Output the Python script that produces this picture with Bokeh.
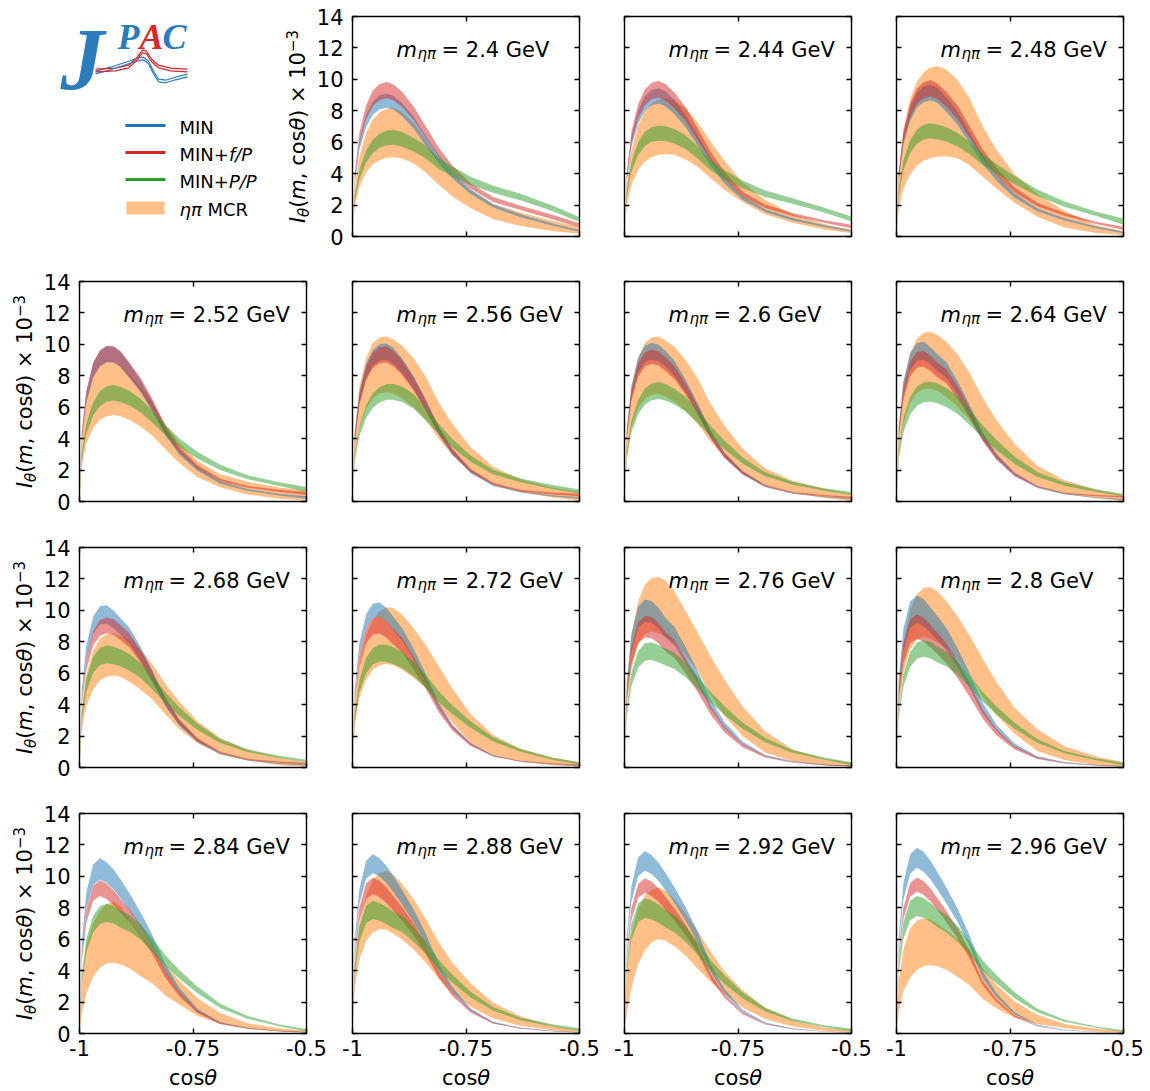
import math
from bokeh.plotting import figure
from bokeh.layouts import column, row
from bokeh.models import Range1d, LinearAxis, FixedTicker, Label
from bokeh.embed import file_html
from bokeh.resources import INLINE
from bokeh.core.properties import value

# ---------------- data ----------------
cos_theta = [-1.0, -0.995, -0.985, -0.97, -0.955, -0.94, -0.925, -0.91, -0.89,
             -0.865, -0.84, -0.81, -0.78, -0.74, -0.69, -0.63, -0.56, -0.5]

mass_labels = ["2.4", "2.44", "2.48", "2.52", "2.56", "2.6", "2.64", "2.68",
               "2.72", "2.76", "2.8", "2.84", "2.88", "2.92", "2.96"]

# MIN (blue) band
min_hi = [
    [0, 3.73, 6.1, 7.74, 8.61, 8.99, 9.1, 8.96, 8.46, 7.6, 6.46, 5.19, 4.1, 3.0, 2.05, 1.41, 0.82, 0.42],
    [0, 3.87, 6.32, 8.02, 8.92, 9.32, 9.43, 9.24, 8.68, 7.73, 6.51, 5.0, 3.77, 2.59, 1.74, 1.18, 0.71, 0.42],
    [0, 3.96, 6.47, 8.21, 9.14, 9.54, 9.66, 9.47, 8.84, 7.92, 6.67, 5.15, 3.96, 2.75, 1.79, 1.16, 0.63, 0.32],
    [0, 4.36, 6.99, 8.8, 9.6, 9.88, 9.85, 9.55, 8.76, 7.72, 6.39, 4.65, 3.32, 2.18, 1.29, 0.79, 0.5, 0.34],
    [0, 4.28, 6.96, 8.77, 9.66, 10.01, 10.06, 9.78, 9.07, 7.96, 6.55, 4.75, 3.33, 2.02, 1.11, 0.66, 0.4, 0.28],
    [0, 4.62, 7.34, 9.17, 9.91, 10.1, 9.97, 9.6, 8.94, 7.73, 6.31, 4.5, 3.13, 1.92, 1.01, 0.56, 0.32, 0.22],
    [0, 4.84, 7.64, 9.44, 10.09, 10.16, 9.82, 9.37, 8.86, 7.64, 6.21, 4.4, 3.05, 1.83, 0.97, 0.51, 0.27, 0.18],
    [0, 4.92, 7.76, 9.59, 10.26, 10.33, 9.99, 9.52, 8.9, 7.66, 6.21, 4.35, 3.0, 1.81, 0.93, 0.5, 0.28, 0.2],
    [0, 5.0, 7.89, 9.75, 10.43, 10.5, 10.15, 9.57, 8.84, 7.52, 6.05, 4.1, 2.74, 1.58, 0.79, 0.39, 0.21, 0.15],
    [0, 5.36, 8.46, 10.23, 10.69, 10.6, 10.17, 9.53, 8.94, 7.66, 6.21, 4.29, 2.89, 1.66, 0.8, 0.41, 0.2, 0.12],
    [0, 5.69, 8.81, 10.56, 10.95, 10.7, 10.18, 9.64, 8.87, 7.56, 6.08, 4.1, 2.74, 1.53, 0.72, 0.35, 0.18, 0.1],
    [0, 5.8, 8.98, 10.75, 11.15, 10.89, 10.43, 9.81, 8.92, 7.69, 6.3, 4.35, 2.9, 1.56, 0.72, 0.37, 0.18, 0.1],
    [0, 5.93, 9.18, 10.99, 11.4, 11.14, 10.66, 10.03, 9.12, 7.87, 6.44, 4.45, 2.96, 1.6, 0.74, 0.38, 0.18, 0.08],
    [0, 6.04, 9.35, 11.2, 11.62, 11.35, 10.86, 10.23, 9.3, 8.02, 6.57, 4.36, 2.85, 1.51, 0.7, 0.33, 0.15, 0.06],
    [0, 6.15, 9.52, 11.39, 11.82, 11.55, 10.99, 10.28, 9.28, 7.92, 6.32, 3.95, 2.6, 1.36, 0.57, 0.24, 0.11, 0.05],
]
min_lo = [
    [0, 3.36, 5.49, 6.97, 7.76, 8.1, 8.2, 8.08, 7.63, 6.85, 5.82, 4.67, 3.69, 2.7, 1.85, 1.22, 0.7, 0.3],
    [0, 3.47, 5.67, 7.19, 8.0, 8.36, 8.46, 8.29, 7.78, 6.94, 5.84, 4.48, 3.38, 2.33, 1.56, 1.02, 0.6, 0.3],
    [0, 3.55, 5.8, 7.36, 8.19, 8.56, 8.66, 8.49, 7.92, 7.1, 5.98, 4.62, 3.55, 2.47, 1.6, 1.02, 0.53, 0.2],
    [0, 3.91, 6.27, 7.89, 8.61, 8.86, 8.84, 8.57, 7.86, 6.93, 5.73, 4.17, 2.97, 1.95, 1.13, 0.68, 0.38, 0.18],
    [0, 3.84, 6.24, 7.86, 8.66, 8.98, 9.02, 8.77, 8.14, 7.14, 5.88, 4.26, 2.98, 1.8, 0.98, 0.57, 0.32, 0.17],
    [0, 4.13, 6.57, 8.21, 8.87, 9.04, 8.92, 8.59, 8.0, 6.92, 5.65, 4.03, 2.8, 1.72, 0.9, 0.49, 0.27, 0.14],
    [0, 4.29, 6.78, 8.38, 8.96, 9.02, 8.72, 8.32, 7.86, 6.78, 5.51, 3.9, 2.71, 1.63, 0.86, 0.45, 0.22, 0.1],
    [0, 4.36, 6.89, 8.51, 9.1, 9.16, 8.86, 8.45, 7.89, 6.79, 5.51, 3.86, 2.66, 1.61, 0.83, 0.44, 0.22, 0.12],
    [0, 4.56, 7.2, 8.9, 9.51, 9.58, 9.26, 8.74, 8.06, 6.86, 5.52, 3.74, 2.5, 1.44, 0.72, 0.35, 0.17, 0.08],
    [0, 4.65, 7.35, 8.88, 9.28, 9.21, 8.84, 8.28, 7.77, 6.65, 5.39, 3.73, 2.51, 1.44, 0.7, 0.35, 0.15, 0.06],
    [0, 4.78, 7.41, 8.87, 9.2, 8.99, 8.56, 8.1, 7.45, 6.35, 5.11, 3.44, 2.3, 1.29, 0.61, 0.29, 0.13, 0.05],
    [0, 5.1, 7.89, 9.45, 9.8, 9.57, 9.16, 8.62, 7.84, 6.76, 5.54, 3.82, 2.55, 1.37, 0.64, 0.32, 0.15, 0.05],
    [0, 5.31, 8.23, 9.85, 10.22, 9.98, 9.56, 8.99, 8.18, 7.05, 5.77, 3.99, 2.66, 1.43, 0.66, 0.34, 0.15, 0.04],
    [0, 5.39, 8.35, 10.0, 10.37, 10.13, 9.7, 9.13, 8.3, 7.16, 5.86, 3.89, 2.54, 1.35, 0.62, 0.29, 0.12, 0.03],
    [0, 5.48, 8.48, 10.16, 10.54, 10.3, 9.8, 9.17, 8.27, 7.06, 5.64, 3.52, 2.32, 1.21, 0.51, 0.21, 0.09, 0.03],
]

# MIN+f/P (red) band
fp_hi = [
    [0, 4.03, 6.59, 8.36, 9.3, 9.71, 9.83, 9.68, 9.19, 8.26, 7.08, 5.65, 4.52, 3.39, 2.51, 1.95, 1.38, 0.84],
    [0, 4.06, 6.63, 8.42, 9.37, 9.78, 9.9, 9.7, 9.16, 8.22, 6.93, 5.4, 4.11, 2.87, 2.03, 1.49, 1.04, 0.74],
    [0, 4.08, 6.66, 8.45, 9.4, 9.82, 9.94, 9.74, 9.19, 8.3, 7.06, 5.55, 4.37, 3.13, 2.14, 1.49, 0.94, 0.62],
    [0, 4.37, 7.01, 8.83, 9.63, 9.91, 9.88, 9.58, 8.84, 7.84, 6.55, 4.77, 3.48, 2.33, 1.44, 0.99, 0.74, 0.6],
    [0, 4.2, 6.82, 8.6, 9.47, 9.82, 9.87, 9.59, 8.95, 7.86, 6.53, 4.75, 3.36, 2.08, 1.19, 0.74, 0.57, 0.49],
    [0, 4.42, 7.03, 8.78, 9.49, 9.67, 9.54, 9.19, 8.61, 7.49, 6.19, 4.45, 3.09, 1.93, 1.06, 0.6, 0.41, 0.3],
    [0, 4.56, 7.21, 8.91, 9.52, 9.59, 9.27, 8.84, 8.41, 7.3, 6.01, 4.3, 2.98, 1.83, 1.01, 0.56, 0.41, 0.35],
    [0, 4.36, 6.94, 8.67, 9.37, 9.55, 9.43, 9.07, 8.55, 7.45, 6.11, 4.4, 3.06, 1.86, 1.0, 0.55, 0.38, 0.3],
    [0, 4.56, 7.21, 8.91, 9.52, 9.59, 9.27, 8.79, 8.22, 7.02, 5.72, 3.95, 2.64, 1.54, 0.79, 0.43, 0.27, 0.2],
    [0, 4.84, 7.64, 9.23, 9.65, 9.57, 9.19, 8.61, 8.12, 6.96, 5.66, 3.9, 2.61, 1.5, 0.73, 0.35, 0.18, 0.12],
    [0, 5.07, 7.85, 9.4, 9.75, 9.53, 9.07, 8.58, 7.9, 6.73, 5.41, 3.7, 2.44, 1.37, 0.65, 0.31, 0.16, 0.1],
    [0, 5.07, 7.85, 9.4, 9.75, 9.53, 9.12, 8.58, 7.9, 6.87, 5.66, 3.9, 2.63, 1.46, 0.68, 0.34, 0.17, 0.1],
    [0, 5.16, 7.99, 9.57, 9.93, 9.7, 9.29, 8.74, 8.04, 7.0, 5.76, 3.97, 2.68, 1.49, 0.7, 0.35, 0.17, 0.08],
    [0, 5.14, 7.95, 9.52, 9.88, 9.65, 9.24, 8.69, 7.95, 6.9, 5.7, 3.8, 2.5, 1.36, 0.63, 0.3, 0.13, 0.06],
    [0, 5.16, 7.99, 9.56, 9.92, 9.69, 9.23, 8.63, 7.79, 6.65, 5.31, 3.35, 2.2, 1.16, 0.49, 0.21, 0.1, 0.05],
]
fp_lo = [
    [0, 3.61, 5.9, 7.48, 8.32, 8.69, 8.8, 8.67, 8.23, 7.39, 6.34, 5.06, 4.05, 3.04, 2.2, 1.68, 1.1, 0.58],
    [0, 3.62, 5.92, 7.51, 8.36, 8.73, 8.84, 8.66, 8.18, 7.34, 6.19, 4.82, 3.67, 2.56, 1.81, 1.3, 0.87, 0.53],
    [0, 3.66, 5.98, 7.58, 8.44, 8.81, 8.92, 8.74, 8.25, 7.45, 6.33, 4.98, 3.92, 2.81, 1.92, 1.32, 0.8, 0.42],
    [0, 3.92, 6.28, 7.91, 8.63, 8.88, 8.86, 8.59, 7.92, 7.03, 5.87, 4.27, 3.12, 2.09, 1.29, 0.88, 0.6, 0.42],
    [0, 3.77, 6.12, 7.72, 8.5, 8.81, 8.85, 8.6, 8.03, 7.05, 5.85, 4.26, 3.02, 1.86, 1.05, 0.64, 0.45, 0.34],
    [0, 4.0, 6.37, 7.95, 8.59, 8.76, 8.65, 8.32, 7.8, 6.79, 5.61, 4.03, 2.8, 1.75, 0.96, 0.53, 0.34, 0.22],
    [0, 4.09, 6.45, 7.97, 8.52, 8.58, 8.3, 7.91, 7.53, 6.54, 5.38, 3.84, 2.67, 1.63, 0.9, 0.49, 0.34, 0.25],
    [0, 3.91, 6.22, 7.76, 8.39, 8.55, 8.44, 8.12, 7.65, 6.67, 5.47, 3.94, 2.74, 1.67, 0.9, 0.48, 0.3, 0.2],
    [0, 4.06, 6.41, 7.93, 8.47, 8.53, 8.25, 7.82, 7.31, 6.24, 5.09, 3.51, 2.35, 1.37, 0.7, 0.38, 0.22, 0.14],
    [0, 4.15, 6.56, 7.93, 8.28, 8.22, 7.89, 7.39, 6.97, 5.98, 4.86, 3.35, 2.24, 1.29, 0.63, 0.3, 0.14, 0.06],
    [0, 4.26, 6.6, 7.9, 8.2, 8.01, 7.63, 7.22, 6.64, 5.66, 4.55, 3.11, 2.05, 1.15, 0.54, 0.26, 0.12, 0.05],
    [0, 4.55, 7.04, 8.44, 8.75, 8.55, 8.18, 7.7, 7.09, 6.17, 5.08, 3.5, 2.36, 1.31, 0.61, 0.3, 0.14, 0.05],
    [0, 4.61, 7.14, 8.55, 8.87, 8.67, 8.29, 7.81, 7.18, 6.25, 5.14, 3.55, 2.39, 1.33, 0.62, 0.31, 0.14, 0.04],
    [0, 4.66, 7.21, 8.64, 8.96, 8.75, 8.38, 7.88, 7.21, 6.26, 5.17, 3.45, 2.27, 1.23, 0.57, 0.27, 0.11, 0.03],
    [0, 4.7, 7.27, 8.7, 9.03, 8.82, 8.4, 7.86, 7.09, 6.05, 4.83, 3.05, 2.0, 1.05, 0.44, 0.19, 0.08, 0.03],
]

# MIN+P/P (green) band
pp_hi = [
    [0, 2.57, 4.22, 5.47, 6.17, 6.56, 6.75, 6.8, 6.63, 6.29, 5.81, 5.0, 4.45, 3.81, 3.23, 2.72, 1.97, 1.22],
    [0, 2.89, 4.72, 5.99, 6.67, 6.97, 7.05, 7.01, 6.84, 6.42, 5.78, 4.85, 4.23, 3.56, 2.93, 2.43, 1.83, 1.28],
    [0, 2.95, 4.82, 6.12, 6.81, 7.11, 7.2, 7.13, 6.95, 6.59, 6.05, 5.25, 4.61, 3.85, 2.99, 2.23, 1.58, 1.15],
    [0, 3.04, 4.97, 6.31, 7.02, 7.33, 7.42, 7.31, 7.05, 6.53, 5.79, 4.85, 4.01, 3.15, 2.34, 1.67, 1.22, 0.92],
    [0, 2.92, 4.79, 6.14, 6.89, 7.28, 7.47, 7.48, 7.3, 6.82, 5.99, 4.95, 3.97, 2.92, 2.02, 1.46, 1.05, 0.76],
    [0, 3.12, 5.09, 6.46, 7.19, 7.51, 7.6, 7.49, 7.18, 6.65, 5.85, 4.8, 3.88, 2.81, 1.86, 1.25, 0.84, 0.6],
    [0, 3.25, 5.27, 6.65, 7.32, 7.59, 7.62, 7.53, 7.22, 6.69, 5.88, 4.85, 3.93, 2.87, 1.87, 1.22, 0.76, 0.5],
    [0, 3.55, 5.64, 7.05, 7.61, 7.76, 7.68, 7.53, 7.22, 6.63, 5.82, 4.75, 3.84, 2.79, 1.82, 1.16, 0.74, 0.49],
    [0, 3.45, 5.54, 6.98, 7.61, 7.83, 7.81, 7.65, 7.34, 6.75, 5.93, 4.85, 3.96, 2.94, 1.92, 1.18, 0.63, 0.34],
    [0, 3.79, 5.99, 7.4, 7.91, 7.96, 7.8, 7.58, 7.3, 6.7, 5.87, 4.8, 3.91, 2.87, 1.88, 1.12, 0.64, 0.34],
    [0, 3.7, 5.89, 7.35, 7.95, 8.1, 7.98, 7.7, 7.37, 6.76, 5.91, 4.8, 3.89, 2.84, 1.82, 1.05, 0.57, 0.3],
    [0, 3.77, 6.0, 7.49, 8.09, 8.25, 8.13, 7.84, 7.52, 6.93, 6.06, 4.95, 4.04, 2.97, 1.9, 1.11, 0.58, 0.28],
    [0, 4.39, 6.79, 8.14, 8.44, 8.31, 8.06, 7.76, 7.47, 6.75, 5.91, 4.7, 3.76, 2.66, 1.69, 1.01, 0.59, 0.34],
    [0, 4.47, 6.92, 8.29, 8.6, 8.47, 8.21, 7.87, 7.53, 6.79, 5.89, 4.65, 3.7, 2.62, 1.63, 0.95, 0.52, 0.3],
    [0, 4.55, 7.04, 8.44, 8.75, 8.62, 8.31, 7.92, 7.53, 6.83, 5.91, 4.65, 3.72, 2.63, 1.58, 0.88, 0.44, 0.2],
]
pp_lo = [
    [0, 2.21, 3.63, 4.71, 5.31, 5.64, 5.8, 5.85, 5.7, 5.41, 5.0, 4.3, 3.83, 3.28, 2.78, 2.3, 1.62, 0.92],
    [0, 2.5, 4.09, 5.19, 5.77, 6.03, 6.1, 6.07, 5.92, 5.55, 5.0, 4.2, 3.65, 3.07, 2.52, 2.08, 1.52, 0.95],
    [0, 2.56, 4.19, 5.31, 5.91, 6.18, 6.25, 6.19, 6.03, 5.72, 5.25, 4.55, 4.0, 3.33, 2.58, 1.9, 1.3, 0.75],
    [0, 2.64, 4.31, 5.47, 6.08, 6.35, 6.43, 6.33, 6.11, 5.66, 5.02, 4.2, 3.47, 2.72, 2.0, 1.42, 0.98, 0.6],
    [0, 2.53, 4.15, 5.32, 5.97, 6.31, 6.47, 6.48, 6.33, 5.91, 5.19, 4.29, 3.44, 2.53, 1.73, 1.22, 0.8, 0.49],
    [0, 2.68, 4.38, 5.55, 6.18, 6.45, 6.53, 6.43, 6.17, 5.71, 5.03, 4.13, 3.33, 2.42, 1.6, 1.06, 0.68, 0.42],
    [0, 2.7, 4.39, 5.53, 6.09, 6.32, 6.35, 6.26, 6.01, 5.57, 4.9, 4.04, 3.28, 2.39, 1.56, 1.0, 0.6, 0.33],
    [0, 3.03, 4.83, 6.03, 6.51, 6.64, 6.57, 6.44, 6.18, 5.68, 4.98, 4.06, 3.29, 2.39, 1.56, 0.98, 0.6, 0.33],
    [0, 2.97, 4.77, 6.0, 6.55, 6.74, 6.72, 6.58, 6.31, 5.8, 5.1, 4.17, 3.41, 2.53, 1.65, 1.0, 0.5, 0.2],
    [0, 3.25, 5.14, 6.35, 6.79, 6.84, 6.7, 6.51, 6.27, 5.75, 5.03, 4.12, 3.36, 2.47, 1.61, 0.94, 0.5, 0.15],
    [0, 3.22, 5.13, 6.4, 6.92, 7.05, 6.94, 6.7, 6.42, 5.89, 5.15, 4.18, 3.38, 2.47, 1.58, 0.9, 0.46, 0.15],
    [0, 3.24, 5.16, 6.45, 6.97, 7.1, 7.0, 6.75, 6.48, 5.96, 5.22, 4.26, 3.48, 2.56, 1.63, 0.94, 0.46, 0.13],
    [0, 3.79, 5.86, 7.02, 7.28, 7.17, 6.95, 6.7, 6.44, 5.82, 5.1, 4.05, 3.24, 2.29, 1.44, 0.85, 0.45, 0.15],
    [0, 3.83, 5.93, 7.1, 7.37, 7.26, 7.04, 6.74, 6.45, 5.82, 5.05, 3.99, 3.17, 2.25, 1.4, 0.8, 0.42, 0.12],
    [0, 3.89, 6.02, 7.21, 7.48, 7.37, 7.11, 6.77, 6.43, 5.83, 5.05, 3.97, 3.18, 2.24, 1.35, 0.74, 0.36, 0.1],
]

# eta-pi MCR (orange) band
mcr_hi = [
    [0, 3.1, 5.08, 6.6, 7.45, 7.9, 8.13, 8.2, 7.91, 7.22, 6.27, 5.0, 4.02, 2.95, 2.09, 1.52, 0.98, 0.6],
    [0, 3.33, 5.46, 7.08, 7.99, 8.48, 8.73, 8.8, 8.67, 8.14, 7.3, 6.05, 4.84, 3.43, 2.33, 1.41, 0.79, 0.42],
    [0, 4.1, 6.73, 8.73, 9.85, 10.46, 10.76, 10.85, 10.63, 9.93, 8.84, 7.0, 5.53, 3.96, 2.71, 1.63, 0.71, 0.32],
    [0, 3.92, 6.28, 7.91, 8.63, 8.88, 8.86, 8.63, 8.1, 7.3, 6.32, 4.9, 3.74, 2.58, 1.74, 1.25, 0.89, 0.7],
    [0, 4.47, 7.26, 9.15, 10.08, 10.45, 10.5, 10.31, 9.89, 9.1, 8.0, 6.3, 4.94, 3.47, 2.21, 1.42, 0.89, 0.6],
    [0, 4.47, 7.26, 9.15, 10.08, 10.45, 10.5, 10.26, 9.84, 8.99, 7.89, 6.2, 4.84, 3.37, 2.1, 1.32, 0.79, 0.5],
    [0, 4.6, 7.47, 9.41, 10.37, 10.74, 10.8, 10.6, 10.17, 9.36, 8.22, 6.6, 5.19, 3.68, 2.27, 1.35, 0.76, 0.4],
    [0, 3.63, 5.9, 7.44, 8.19, 8.49, 8.53, 8.38, 8.12, 7.48, 6.58, 5.3, 4.19, 2.95, 1.88, 1.11, 0.64, 0.34],
    [0, 4.0, 6.56, 8.41, 9.43, 9.96, 10.2, 10.15, 9.7, 8.85, 7.85, 6.45, 5.03, 3.4, 2.05, 1.2, 0.62, 0.34],
    [0, 5.16, 8.38, 10.57, 11.64, 12.06, 12.13, 11.9, 11.2, 9.95, 8.65, 7.05, 5.6, 3.9, 2.3, 1.15, 0.55, 0.28],
    [0, 4.89, 7.94, 10.0, 11.02, 11.42, 11.48, 11.2, 10.6, 9.6, 8.45, 6.9, 5.45, 3.8, 2.45, 1.35, 0.7, 0.34],
    [0, 3.4, 5.6, 7.0, 7.8, 8.25, 8.38, 8.1, 7.2, 6.25, 5.37, 4.33, 3.35, 2.25, 1.3, 0.65, 0.33, 0.17],
    [0, 4.24, 6.93, 8.8, 9.79, 10.23, 10.35, 10.1, 9.5, 8.55, 7.35, 5.8, 4.5, 3.2, 1.95, 1.1, 0.5, 0.2],
    [0, 3.8, 6.22, 7.89, 8.78, 9.17, 9.28, 9.1, 8.55, 7.6, 6.55, 5.2, 3.95, 2.75, 1.65, 0.85, 0.38, 0.2],
    [0, 3.35, 5.33, 6.66, 7.19, 7.33, 7.24, 7.0, 6.55, 6.0, 5.35, 4.15, 3.1, 2.05, 1.2, 0.6, 0.3, 0.17],
]
mcr_lo = [
    [0, 1.91, 3.13, 4.07, 4.59, 4.87, 5.01, 5.05, 4.97, 4.65, 4.1, 3.3, 2.55, 1.82, 1.1, 0.67, 0.35, 0.18],
    [0, 1.98, 3.26, 4.23, 4.77, 5.06, 5.21, 5.25, 5.2, 4.9, 4.45, 3.7, 2.98, 2.2, 1.42, 0.88, 0.45, 0.2],
    [0, 1.8, 3.0, 3.95, 4.5, 4.83, 5.0, 5.08, 5.1, 4.98, 4.55, 3.8, 3.05, 2.15, 1.25, 0.58, 0.22, 0.1],
    [0, 2.26, 3.69, 4.68, 5.2, 5.43, 5.5, 5.42, 5.18, 4.75, 4.2, 3.3, 2.45, 1.55, 0.9, 0.45, 0.18, 0.06],
    [0, 2.85, 4.66, 5.91, 6.57, 6.87, 6.95, 6.85, 6.55, 5.98, 5.25, 4.0, 2.95, 1.9, 1.08, 0.6, 0.25, 0.06],
    [0, 2.91, 4.73, 5.96, 6.56, 6.8, 6.84, 6.7, 6.35, 5.75, 5.0, 3.8, 2.8, 1.75, 1.0, 0.55, 0.22, 0.05],
    [0, 3.06, 4.97, 6.26, 6.9, 7.15, 7.19, 7.04, 6.66, 6.02, 5.25, 3.95, 2.9, 1.8, 0.98, 0.5, 0.2, 0.05],
    [0, 2.4, 3.92, 4.97, 5.53, 5.78, 5.85, 5.77, 5.45, 4.95, 4.35, 3.35, 2.45, 1.55, 0.88, 0.45, 0.15, 0.03],
    [0, 2.7, 4.41, 5.59, 6.22, 6.5, 6.58, 6.5, 6.2, 5.7, 5.1, 3.95, 2.85, 1.58, 0.82, 0.4, 0.15, 0.06],
    [0, 3.95, 6.29, 7.85, 8.49, 8.65, 8.54, 8.3, 7.95, 7.15, 6.2, 4.6, 3.3, 2.0, 0.95, 0.4, 0.15, 0.06],
    [0, 3.79, 6.03, 7.54, 8.14, 8.3, 8.19, 7.95, 7.6, 6.85, 5.95, 4.5, 3.35, 2.15, 1.05, 0.48, 0.16, 0.06],
    [0, 1.2, 2.55, 3.6, 4.2, 4.45, 4.5, 4.4, 4.15, 3.65, 3.2, 2.4, 1.85, 1.12, 0.6, 0.3, 0.12, 0.06],
    [0, 2.92, 4.69, 5.9, 6.44, 6.63, 6.61, 6.35, 5.95, 5.35, 4.55, 3.5, 2.6, 1.7, 0.95, 0.5, 0.2, 0.06],
    [0, 1.3, 2.9, 4.4, 5.3, 5.8, 5.99, 5.9, 5.55, 4.95, 4.15, 3.3, 2.5, 1.65, 0.92, 0.45, 0.18, 0.06],
    [0, 1.4, 2.7, 3.55, 4.05, 4.3, 4.35, 4.28, 4.05, 3.6, 3.1, 2.2, 1.6, 1.0, 0.6, 0.35, 0.12, 0.04],
]

x_ticks = [-1.0, -0.75, -0.5]
x_tick_labels = ["-1", "-0.75", "-0.5"]
y_ticks = [0, 2, 4, 6, 8, 10, 12, 14]

# legend / logo decoration, in page pixels (x right, y down)
legend_line_y = [125, 152, 179]
legend_line_x = [125, 165]
legend_patch = [126, 164, 201, 214]  # left, right, top, bottom
legend_text_y = [132, 159, 186, 214]
logo_blue_x = [95, 110, 125, 137, 143, 148, 153, 158, 165, 175, 187]
logo_blue_y = [72, 68, 63, 59, 58, 62, 72, 80, 81, 78, 75]
logo_red_x = [95, 115, 128, 136, 142, 146, 151, 158, 170, 187]
logo_red_y = [70, 69, 66, 59, 51, 52, 60, 66, 69, 70]

# ---------------- style / layout ----------------
FONT = "DejaVu Sans"
C_MIN, C_FP, C_PP, C_MCR = "#1f77b4", "#d62728", "#2ca02c", "#ff7f0e"
LOGO_BLUE, LOGO_RED = "#2a7cbd", "#d9262b"
FS = "21px"
BASE_FIX = 0.3  # em; the rendered alphabetic baseline sits this much lower than asked

ADV = {"I": 0.295, "θ": 0.602, "(": 0.390, ")": 0.390, "m": 0.974, ",": 0.318, " ": 0.318,
       "c": 0.550, "o": 0.612, "s": 0.521, "×": 0.838, "1": 0.636, "0": 0.636, "−": 0.838, "3": 0.636}


def text_width(s, px):
    return sum(ADV.get(ch, 0.6) for ch in s) * px


FRAME_W, FRAME_H = 227, 220
col_frame_left = [79, 352, 624, 896]
col_right = [23, 22, 22, 23]
row_top = [16, 24, 24, 24]
row_bottom = [21, 22, 22, 31]
row_height = [row_top[i] + FRAME_H + row_bottom[i] for i in range(4)]
row_page_top = [sum(row_height[:i]) for i in range(4)]
XLAB_H = 26
YTICK_BORDER = 40
YLAB_W = col_frame_left[0] - YTICK_BORDER
YLAB_GAP = 48


def style_axis(ax, show_labels, standoff):
    ax.axis_line_color = None
    ax.major_tick_in = 5
    ax.major_tick_out = 0
    ax.major_tick_line_color = "black"
    ax.major_tick_line_width = 1.4
    ax.minor_tick_line_color = None
    ax.major_label_text_font = FONT
    ax.major_label_text_font_size = FS
    ax.major_label_standoff = standoff
    ax.major_label_text_color = "black" if show_labels else None


def draw_ylabel(p, base_x, center_y):
    """rotated y label, text glyphs in a figure whose data units are page px (y = -page_y)"""
    pieces = [("I", "italic", 21, 0), ("θ", "italic", 15, -4), ("(", "normal", 21, 0),
              ("m", "italic", 21, 0), (", cos", "normal", 21, 0), ("θ", "italic", 21, 0),
              (") × 10", "normal", 21, 0), ("−3", "normal", 15, 8)]
    widths = [text_width(t, s) for t, _, s, _ in pieces]
    start = center_y + sum(widths) / 2.0
    cum = 0.0
    for (t, st, s, sh), w in zip(pieces, widths):
        p.text(x=[base_x - sh - BASE_FIX * s], y=[-(start - cum)], text=[t], angle=math.pi / 2,
               text_font=value(FONT), text_font_style=st, text_font_size=f"{s}px",
               text_align="left", text_baseline="alphabetic", text_color="black")
        cum += w


def draw_xlabel(p, center_x, base_y):
    pieces = [("cos", "normal"), ("θ", "italic")]
    widths = [text_width(t, 21) for t, _ in pieces]
    pos = center_x - sum(widths) / 2.0
    for (t, st), w in zip(pieces, widths):
        p.text(x=[pos], y=[-(base_y - BASE_FIX * 21)], text=[t], text_font=value(FONT),
               text_font_style=st, text_font_size=FS, text_align="left",
               text_baseline="alphabetic", text_color="black")
        pos += w


def pixel_figure(x0, y0, w, h, top=0, bottom=0):
    """figure whose data units are page pixels (y = -page_y); borders match its row neighbours"""
    fh = h - top - bottom
    p = figure(x_range=Range1d(x0, x0 + w), y_range=Range1d(-(y0 + top + fh), -(y0 + top)),
               x_axis_type=None, y_axis_type=None, frame_width=w, frame_height=fh,
               min_border_left=0, min_border_right=0, min_border_top=top, min_border_bottom=bottom,
               output_backend="svg", toolbar_location=None)
    p.outline_line_color = None
    return p


def make_panel(k, r, c):
    show_y = (c == 0) or (r == 0 and c == 1)
    show_x = (r == 3)
    left = YTICK_BORDER if show_y else 23
    p = figure(x_range=Range1d(-1, -0.5), y_range=Range1d(0, 14),
               x_axis_type=None, y_axis_type=None,
               frame_width=FRAME_W, frame_height=FRAME_H,
               min_border_left=left, min_border_right=col_right[c],
               min_border_top=row_top[r], min_border_bottom=row_bottom[r],
               output_backend="svg", toolbar_location=None)
    p.outline_line_color = "black"
    p.outline_line_width = 1.4

    bands = [(mcr_lo[k], mcr_hi[k], C_MCR), (min_lo[k], min_hi[k], C_MIN),
             (fp_lo[k], fp_hi[k], C_FP), (pp_lo[k], pp_hi[k], C_PP)]
    for lo, hi, col in bands:
        p.varea(x=cos_theta, y1=lo, y2=hi, fill_color=col, fill_alpha=0.5)

    for loc in ("below", "above"):
        ax = LinearAxis(ticker=FixedTicker(ticks=x_ticks, minor_ticks=[]))
        on = (loc == "below" and show_x)
        style_axis(ax, on, 6)
        if on:
            ax.major_label_overrides = {t: s for t, s in zip(x_ticks, x_tick_labels)}
        p.add_layout(ax, loc)
    for loc in ("left", "right"):
        ax = LinearAxis(ticker=FixedTicker(ticks=y_ticks, minor_ticks=[]))
        style_axis(ax, loc == "left" and show_y, 9)
        p.add_layout(ax, loc)

    # m_{eta pi} = X GeV
    p.add_layout(Label(x=-1, y=14, x_offset=44, y_offset=-39.7 + BASE_FIX * 21, text="m",
                       text_font=FONT, text_font_style="italic", text_font_size=FS,
                       text_baseline="alphabetic", text_color="black"))
    p.add_layout(Label(x=-1, y=14, x_offset=65, y_offset=-42.3 + BASE_FIX * 15, text="ηπ",
                       text_font=FONT, text_font_style="italic", text_font_size="15px",
                       text_baseline="alphabetic", text_color="black"))
    p.add_layout(Label(x=-1, y=14, x_offset=89, y_offset=-39.7 + BASE_FIX * 21,
                       text="= " + mass_labels[k] + " GeV", text_font=FONT, text_font_size=FS,
                       text_baseline="alphabetic", text_color="black"))
    return p


def make_legend_panel():
    w = col_frame_left[1] - YTICK_BORDER
    p = pixel_figure(0, 0, w, row_height[0], top=row_top[0], bottom=row_bottom[0])
    # logo
    p.add_layout(Label(x=60, y=-(85 - BASE_FIX * 88), text="J", text_font="Liberation Serif",
                       text_font_style="bold italic", text_font_size="88px", text_color=LOGO_BLUE,
                       text_baseline="alphabetic"))
    for t, xx, col in [("P", 117, LOGO_BLUE), ("A", 139, LOGO_RED), ("C", 162, LOGO_BLUE)]:
        p.add_layout(Label(x=xx, y=-(47 - BASE_FIX * 36), text=t, text_font="Liberation Serif",
                           text_font_style="bold italic", text_font_size="36px", text_color=col,
                           text_baseline="alphabetic"))
    for dy in (-1.3, 1.3):
        p.line(logo_blue_x, [-(v + dy) for v in logo_blue_y], line_color=LOGO_BLUE, line_width=1.2)
        p.line(logo_red_x, [-(v + dy) for v in logo_red_y], line_color=LOGO_RED, line_width=1.2)
    # legend
    for yy, col in zip(legend_line_y, [C_MIN, C_FP, C_PP]):
        p.line(legend_line_x, [-yy, -yy], line_color=col, line_width=3)
    p.quad(left=[legend_patch[0]], right=[legend_patch[1]], top=[-legend_patch[2]], bottom=[-legend_patch[3]],
           fill_color=C_MCR, fill_alpha=0.5, line_color=None)
    lx = 179
    plus_w = (0.863 + 0.295 + 0.748 + 0.838) * 18
    entries = [
        [("MIN", "normal", lx)],
        [("MIN+", "normal", lx), ("f/P", "italic", lx + plus_w)],
        [("MIN+", "normal", lx), ("P/P", "italic", lx + plus_w)],
        [("ηπ", "italic", lx), ("MCR", "normal", lx + 28)],
    ]
    for yy, parts in zip(legend_text_y, entries):
        for t, st, xx in parts:
            p.add_layout(Label(x=xx, y=-(yy - BASE_FIX * 18), text=t, text_font=FONT, text_font_style=st,
                               text_font_size="18px", text_color="black", text_baseline="alphabetic"))
    # y label of the first data panel sits in this region
    draw_ylabel(p, col_frame_left[1] - YLAB_GAP, row_top[0] + FRAME_H / 2.0)
    return p


rows = []
k = 0
for r in range(4):
    figs = []
    if r == 0:
        figs.append(make_legend_panel())
    else:
        yl = pixel_figure(0, row_page_top[r], YLAB_W, row_height[r], top=row_top[r], bottom=row_bottom[r])
        draw_ylabel(yl, col_frame_left[0] - YLAB_GAP, row_page_top[r] + row_top[r] + FRAME_H / 2.0)
        figs.append(yl)
    for c in range(4):
        if r == 0 and c == 0:
            continue
        figs.append(make_panel(k, r, c))
        k += 1
    rows.append(row(*figs, spacing=0))

total_w = YLAB_W + (YTICK_BORDER + FRAME_W + col_right[0]) + sum(23 + FRAME_W + col_right[c] for c in (1, 2, 3))
xl_top = sum(row_height)
xl = pixel_figure(0, xl_top, total_w, XLAB_H)
for c in range(4):
    draw_xlabel(xl, col_frame_left[c] + FRAME_W / 2.0, xl_top + 20)
rows.append(xl)

layout = column(*rows, spacing=0)
open("out.html", "w").write(file_html(layout, INLINE))
